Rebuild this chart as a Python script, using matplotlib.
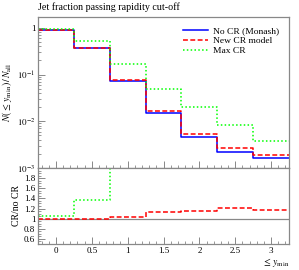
import numpy as np
import matplotlib
matplotlib.use("Agg")
import matplotlib.pyplot as plt
from matplotlib.ticker import MultipleLocator, LogLocator, NullFormatter, FixedLocator

plt.rcParams['font.family'] = ['Liberation Serif', 'DejaVu Serif']
plt.rcParams['mathtext.fontset'] = 'stix'

edges = [-0.25, 0.25, 0.75, 1.25, 1.75, 2.25, 2.75, 3.25]
no_cr = [0.915, 0.377, 0.073, 0.0149, 0.00464, 0.00219, 0.00163]
new_cr = [0.915, 0.378, 0.0760, 0.0168, 0.00534, 0.00265, 0.00191]
max_cr = [0.96, 0.515, 0.164, 0.050, 0.0197, 0.0085, 0.00376]

labels = ["No CR (Monash)", "New CR model", "Max CR"]
colors = ["#0000ff", "#ff0000", "#00ff00"]
styles = ["-", (0, (3.2, 1.6)), (0, (1, 1.5))]
series = [no_cr, new_cr, max_cr]

title = "Jet fraction passing rapidity cut-off"
xticks = [0, 0.5, 1, 1.5, 2, 2.5, 3]
xticklabels = ["0", "0.5", "1", "1.5", "2", "2.5", "3"]
ratio_ticks = [0.6, 0.8, 1, 1.2, 1.4, 1.6, 1.8]
ratio_ticklabels = ["0.6", "0.8", "1", "1.2", "1.4", "1.6", "1.8"]

fig = plt.figure(figsize=(2.99, 2.70), dpi=100)
W, H = 299, 270
def frac(l, t, r, b):
    return [l / W, 1 - b / H, (r - l) / W, (b - t) / H]

ax = fig.add_axes(frac(38, 17, 289, 168))
rax = fig.add_axes(frac(38, 168, 289, 244), sharex=ax)

frame_col = "#888888"
fs = 6.5

def stairs(a, vals, **kw):
    v = list(vals) + [vals[-1]]
    a.step(edges, v, where="post", **kw)

for vals, lab, c, ls in zip(series, labels, colors, styles):
    stairs(ax, vals, color=c, ls=ls, lw=1.1, label=lab)

ax.set_yscale("log")
ax.set_ylim(1e-3, 1.7)
ax.set_xlim(-0.25, 3.25)
ax.yaxis.set_major_locator(FixedLocator([1e-3, 1e-2, 1e-1, 1]))
ax.set_yticklabels([r"$10^{-3}$", r"$10^{-2}$", r"$10^{-1}$", "1"])
ax.yaxis.set_minor_locator(LogLocator(base=10, subs=np.arange(2, 10)))
ax.yaxis.set_minor_formatter(NullFormatter())
ax.tick_params(axis="x", labelbottom=False)
ax.set_ylabel(r"$N(\leq\, y_{\min})\,/\,N_{\rm all}$", fontsize=7, labelpad=2)
ax.text(0.0, 1.035, title, transform=ax.transAxes, fontsize=7.2, ha="left", va="bottom")

leg = ax.legend(loc="upper right", frameon=False, fontsize=6.8, handlelength=2.6,
                handletextpad=0.6, labelspacing=0.15, borderaxespad=0.6)

# ratio panel
ref = np.array(no_cr)
rax.axhline(1.0, color="#888888", lw=0.9)
for vals, c, ls in zip(series[1:], colors[1:], styles[1:]):
    stairs(rax, list(np.array(vals) / ref), color=c, ls=ls, lw=1.1)
rax.set_ylim(0.5, 2.0)
rax.yaxis.set_major_locator(FixedLocator(ratio_ticks))
rax.set_yticklabels(ratio_ticklabels)
rax.yaxis.set_minor_locator(MultipleLocator(0.05))
rax.set_xticks(xticks)
rax.set_xticklabels(xticklabels)
rax.xaxis.set_minor_locator(MultipleLocator(0.1))
rax.set_ylabel("CR/no CR", fontsize=7, labelpad=2)
rax.set_xlabel(r"$\leq\, y_{\min}$", fontsize=7, loc="right", labelpad=1)

for a in (ax, rax):
    for s in a.spines.values():
        s.set_color(frame_col)
        s.set_linewidth(0.9)
    a.tick_params(which="both", direction="in", color=frame_col, labelsize=fs,
                  top=False, right=False, pad=2)
    a.tick_params(which="major", length=5, width=0.7)
    a.tick_params(which="minor", length=2.5, width=0.6)
    a.set_facecolor("white")

fig.savefig("out.png", dpi=100)
